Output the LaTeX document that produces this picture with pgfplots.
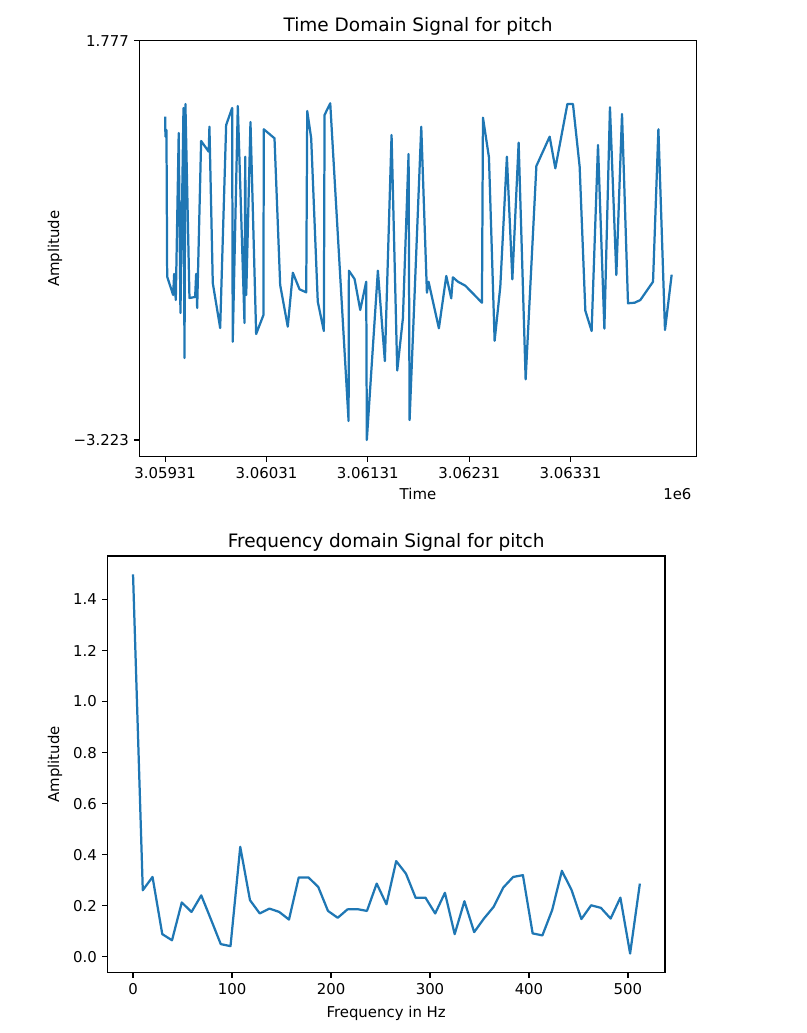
\documentclass[border=0pt]{standalone}
\usepackage{fontspec}
\setmainfont{DejaVu Sans}
\usepackage{pgfplots}
\pgfplotsset{compat=1.18}
\definecolor{mplblue}{RGB}{31,119,180}

% time series (time, amplitude)
\pgfplotstableread{
t y
3059310 0.825
3059313 0.575
3059323 0.659
3059330 -1.178
3059389 -1.407
3059399 -1.144
3059415 -1.470
3059444 0.621
3059461 -1.633
3059491 0.934
3059501 -2.196
3059510 0.984
3059550 -1.445
3059606 -1.432
3059616 -1.144
3059626 -1.570
3059665 0.521
3059740 0.387
3059747 0.700
3059780 -1.257
3059853 -1.821
3059912 0.721
3059971 0.934
3059977 -1.992
3060027 0.959
3060093 -1.758
3060100 0.324
3060110 -1.407
3060152 0.759
3060208 -1.896
3060280 -1.658
3060283 0.668
3060389 0.555
3060445 -1.282
3060520 -1.804
3060570 -1.128
3060636 -1.336
3060702 -1.374
3060712 0.897
3060751 0.555
3060816 -1.491
3060876 -1.858
3060883 0.847
3060939 0.993
3061120 -2.985
3061123 -1.103
3061179 -1.207
3061235 -1.595
3061294 -1.241
3061300 -3.223
3061409 -1.103
3061478 -2.234
3061544 0.596
3061600 -2.353
3061656 -1.699
3061712 0.358
3061722 -2.973
3061837 0.700
3061893 -1.379
3061909 -1.241
3062011 -1.824
3062084 -1.169
3062133 -1.449
3062149 -1.186
3062199 -1.241
3062272 -1.291
3062436 -1.504
3062446 0.813
3062505 0.317
3062561 -1.980
3062617 -1.303
3062682 0.324
3062736 -1.211
3062798 0.500
3062867 -2.463
3062973 0.208
3063104 0.575
3063160 0.179
3063279 0.984
3063334 0.984
3063400 0.199
3063456 -1.604
3063518 -1.858
3063581 0.471
3063644 -1.829
3063699 0.943
3063762 -1.157
3063818 0.859
3063877 -1.511
3063943 -1.504
3063999 -1.470
3064124 -1.241
3064177 0.668
3064242 -1.846
3064308 -1.153
}\timedata

% spectrum (frequency, amplitude)
\pgfplotstableread{
f a
0.00 1.498
9.85 0.261
19.69 0.313
29.54 0.089
39.38 0.065
49.23 0.213
59.08 0.176
68.92 0.241
78.77 0.146
88.62 0.050
98.46 0.042
108.31 0.431
118.15 0.222
128.00 0.170
137.85 0.189
147.69 0.176
157.54 0.146
167.38 0.311
177.23 0.311
187.08 0.274
196.92 0.180
206.77 0.153
216.62 0.186
226.46 0.187
236.31 0.180
246.15 0.287
256.00 0.206
265.85 0.375
275.69 0.326
285.54 0.231
295.38 0.232
305.23 0.170
315.08 0.251
324.92 0.089
334.77 0.218
344.62 0.097
354.46 0.150
364.31 0.196
374.15 0.272
384.00 0.313
393.85 0.320
403.69 0.092
413.54 0.084
423.38 0.183
433.23 0.337
443.08 0.261
452.92 0.148
462.77 0.202
472.62 0.192
482.46 0.150
492.31 0.232
502.15 0.013
512.00 0.287
}\freqdata

\pgfplotsset{
  mpl/.style={
    scale only axis, anchor=south west, clip=false,
    axis line style={line width=0.8pt},
    tick align=outside, tick pos=left, major tick length=3.5pt,
    every tick/.style={black, line width=0.8pt},
    tick label style={font=\fontsize{10}{12}\selectfont},
    label style={font=\fontsize{10}{12}\selectfont},
    /pgf/number format/assume math mode=true,
    title style={font=\fontsize{12.4}{14}\selectfont, at={(axis description cs:0.5,1)}, anchor=base},
  }
}

\begin{document}
\begin{tikzpicture}
\useasboundingbox (0,0) rectangle (540.02pt,692.11pt);

\begin{axis}[mpl,
  at={(93.33pt,386.12pt)}, width=373.46pt, height=278.72pt,
  xmin=3059055, xmax=3064555, ymin=-3.432, ymax=1.777,
  scaled x ticks=false,
  xtick={3059310,3060310,3061310,3062310,3063310},
  xticklabels={3.05931,3.06031,3.06131,3.06231,3.06331},
  ytick={-3.223,1.777}, yticklabels={−3.223,1.777},
  title={Time Domain Signal for pitch},
  xlabel={Time}, ylabel={Amplitude},
  xlabel style={at={(axis description cs:0.5,0)}, anchor=base, yshift=-29pt},
  ylabel style={at={(axis description cs:-0.1512,0.5)}, anchor=center},
]
\addplot[mplblue, line width=1.5pt, line join=round] table[x=t, y=y] {\timedata};
\node[anchor=base east, font=\fontsize{10}{12}\selectfont, yshift=-29pt] at (rel axis cs:1,0) {1e6};
\end{axis}

\begin{axis}[mpl,
  at={(71.89pt,40.40pt)}, width=373.66pt, height=279.19pt,
  xmin=-26, xmax=537.4, ymin=-0.062, ymax=1.570,
  xtick={0,100,...,500},
  ytick={0,0.2,...,1.4},
  yticklabel style={/pgf/number format/.cd, fixed, fixed zerofill, precision=1},
  title={Frequency domain Signal for pitch},
  xlabel={Frequency in Hz}, ylabel={Amplitude},
  xlabel style={at={(axis description cs:0.5,0)}, anchor=base, yshift=-29.7pt},
  ylabel style={at={(axis description cs:-0.0938,0.5)}, anchor=center},
]
\addplot[mplblue, line width=1.5pt, line join=round] table[x=f, y=a] {\freqdata};
\end{axis}
\end{tikzpicture}
\end{document}
